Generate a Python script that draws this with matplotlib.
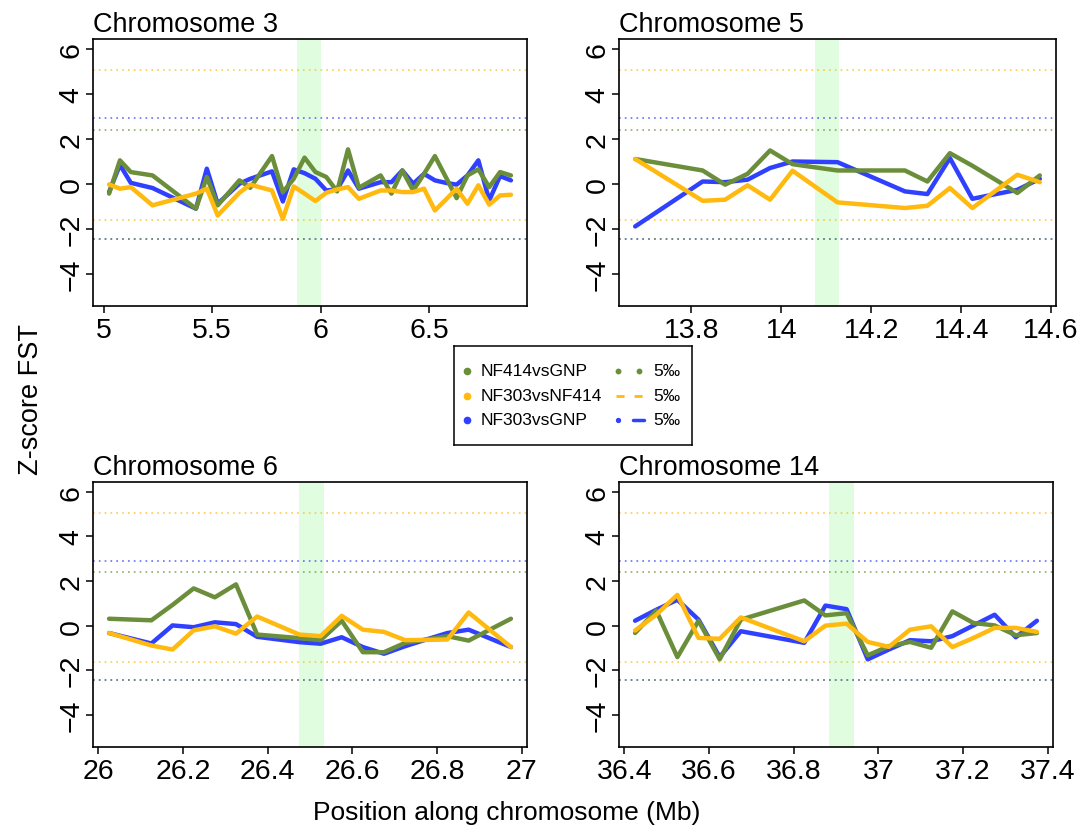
import numpy as np
import matplotlib
matplotlib.use('Agg')
import matplotlib.pyplot as plt
from matplotlib.ticker import FormatStrFormatter

plt.rcParams['font.family'] = ['Liberation Sans', 'DejaVu Sans']

# window midpoints (Mb) and Z-score FST for each comparison
chr3_pos = [5.025, 5.075, 5.125, 5.225, 5.425, 5.475, 5.525, 5.625, 5.675, 5.775, 5.825,
            5.875, 5.925, 5.975, 6.025, 6.075, 6.125, 6.175, 6.275, 6.325, 6.375, 6.425,
            6.475, 6.525, 6.575, 6.625, 6.675, 6.725, 6.775, 6.825, 6.875]
chr3_414_gnp = [-0.44, 1.04, 0.52, 0.37, -1.11, 0.30, -0.96, 0.15, -0.18, 1.23, -0.37,
                0.22, 1.16, 0.52, 0.30, -0.34, 1.53, -0.18, 0.37, -0.44, 0.59, -0.30,
                0.44, 1.23, 0.30, -0.64, 0.37, 0.64, -0.15, 0.52, 0.37]
chr3_303_414 = [-0.03, -0.22, -0.15, -0.96, -0.44, -0.22, -1.41, -0.40, -0.04, -0.30, -1.56,
                -0.12, -0.44, -0.77, -0.40, -0.25, -0.15, -0.67, -0.30, -0.30, -0.37, -0.37,
                -0.22, -1.19, -0.71, -0.22, -0.89, -0.07, -0.93, -0.52, -0.49]
chr3_303_gnp = [-0.37, 0.84, 0.04, -0.19, -1.11, 0.67, -0.89, 0.00, 0.22, 0.55, -0.79,
                0.64, 0.47, 0.22, -0.30, -0.25, 0.59, -0.22, 0.07, 0.07, 0.59, 0.00,
                0.44, 0.15, 0.04, -0.04, 0.37, 1.04, -0.74, 0.34, 0.15]

chr5_pos = [13.675, 13.825, 13.875, 13.925, 13.975, 14.025, 14.125, 14.275, 14.325,
            14.375, 14.425, 14.525, 14.575]
chr5_414_gnp = [1.10, 0.59, -0.04, 0.44, 1.48, 0.87, 0.59, 0.59, 0.10, 1.36, 0.80, -0.41, 0.37]
chr5_303_414 = [1.10, -0.76, -0.71, -0.07, -0.71, 0.58, -0.83, -1.08, -0.98, -0.19, -1.08, 0.40, 0.07]
chr5_303_gnp = [-1.90, 0.10, 0.07, 0.18, 0.70, 0.99, 0.96, -0.34, -0.46, 1.14, -0.67, -0.27, 0.22]

chr6_pos = [26.025, 26.125, 26.175, 26.225, 26.275, 26.325, 26.375, 26.475, 26.525,
            26.575, 26.625, 26.675, 26.725, 26.775, 26.825, 26.875, 26.975]
chr6_414_gnp = [0.31, 0.24, 0.93, 1.67, 1.27, 1.85, -0.40, -0.56, -0.65, 0.22, -1.19,
                -1.19, -0.77, -0.62, -0.47, -0.67, 0.31]
chr6_303_414 = [-0.33, -0.89, -1.07, -0.21, -0.03, -0.36, 0.41, -0.40, -0.47, 0.44, -0.18,
                -0.28, -0.65, -0.64, -0.62, 0.59, -0.96]
chr6_303_gnp = [-0.33, -0.80, 0.01, -0.07, 0.15, 0.07, -0.50, -0.74, -0.81, -0.52, -0.96,
                -1.26, -0.92, -0.62, -0.33, -0.18, -0.96]

chr14_pos = [36.425, 36.475, 36.525, 36.575, 36.625, 36.675, 36.825, 36.875, 36.925,
             36.975, 37.025, 37.075, 37.125, 37.175, 37.225, 37.275, 37.325, 37.375]
chr14_414_gnp = [-0.33, 0.68, -1.41, 0.22, -1.51, 0.27, 1.13, 0.46, 0.56, -1.33, -0.92,
                 -0.73, -0.99, 0.64, 0.12, 0.01, -0.43, -0.33]
chr14_303_414 = [-0.22, 0.49, 1.38, -0.55, -0.59, 0.37, -0.70, 0.00, 0.09, -0.73, -0.95,
                 -0.18, -0.03, -0.96, -0.55, -0.10, -0.10, -0.28]
chr14_303_gnp = [0.22, 0.71, 1.16, 0.27, -1.41, -0.25, -0.77, 0.90, 0.74, -1.51, -1.07,
                 -0.65, -0.70, -0.47, 0.01, 0.49, -0.52, 0.22]

# candidate regions (Mb)
chr3_band = (5.89, 6.0)
chr5_band = (14.076, 14.129)
chr6_band = (26.474, 26.532)
chr14_band = (36.884, 36.942)

# 5 per mille thresholds (low, high)
thr_414_gnp = (-2.45, 2.40)
thr_303_414 = (-1.62, 5.07)
thr_303_gnp = (-2.45, 2.92)

comparisons = ['NF414vsGNP', 'NF303vsNF414', 'NF303vsGNP']
green = '#6B8E3A'
orange = '#FFB90F'
blue = '#3040FF'

W, H = 1077, 837
fig = plt.figure(figsize=(W / 100, H / 100), dpi=100)


def add_ax(l, t, r, b):
    return fig.add_axes([l / W, 1 - b / H, (r - l) / W, (b - t) / H])


panels = [
    ('Chromosome 3', add_ax(93, 40, 527, 307), chr3_pos, chr3_414_gnp, chr3_303_414, chr3_303_gnp,
     chr3_band, [5, 5.5, 6, 6.5]),
    ('Chromosome 5', add_ax(619, 40, 1056, 307), chr5_pos, chr5_414_gnp, chr5_303_414, chr5_303_gnp,
     chr5_band, [13.8, 14, 14.2, 14.4, 14.6]),
    ('Chromosome 6', add_ax(93, 483, 527, 748), chr6_pos, chr6_414_gnp, chr6_303_414, chr6_303_gnp,
     chr6_band, [26, 26.2, 26.4, 26.6, 26.8, 27]),
    ('Chromosome 14', add_ax(619, 483, 1053, 748), chr14_pos, chr14_414_gnp, chr14_303_414, chr14_303_gnp,
     chr14_band, [36.4, 36.6, 36.8, 37, 37.2, 37.4]),
]

for title, ax, pos, g, o, b, band, xt in panels:
    ax.axvspan(band[0], band[1], color='#E0FDE0', lw=0, zorder=0)
    for thr, col in [(thr_303_414, orange), (thr_303_gnp, blue), (thr_414_gnp, green)]:
        for v in thr:
            ax.axhline(v, color=col, lw=1.2, ls=(0, (1, 2.5)), alpha=0.75, zorder=1)
    kw = dict(lw=3.2, solid_joinstyle='round', solid_capstyle='round')
    ax.plot(pos, b, color=blue, zorder=2, **kw)
    ax.plot(pos, g, color=green, zorder=3, **kw)
    ax.plot(pos, o, color=orange, zorder=4, **kw)

    span = max(pos) - min(pos)
    ax.set_xlim(min(pos) - 0.04 * span, max(pos) + 0.04 * span)
    ax.set_ylim(-5.44, 6.44)
    ax.set_xticks(xt)
    ax.xaxis.set_major_formatter(FormatStrFormatter('%g'))
    ax.set_yticks([-4, -2, 0, 2, 4, 6])
    ax.tick_params(labelsize=20.5, length=5, width=1.1)
    ax.tick_params(axis='x', pad=3)
    ax.tick_params(axis='y', pad=1)
    for lab in ax.get_yticklabels():
        lab.set_rotation(90)
        lab.set_va('center')
    for s in ax.spines.values():
        s.set_linewidth(1.2)
    ax.set_title(title, loc='left', fontsize=19.5, pad=6)

fig.text(31 / W, 1 - 400 / H, 'Z-score FST', rotation=90, fontsize=19.5, ha='center', va='center')
fig.text(507 / W, 1 - 813 / H, 'Position along chromosome (Mb)', fontsize=19, ha='center', va='center')

# legend box drawn by hand, R style
lax = add_ax(454, 347, 692, 446)
lax.set_xlim(0, 238)
lax.set_ylim(99, 0)
lax.set_xticks([])
lax.set_yticks([])
for s in lax.spines.values():
    s.set_linewidth(1.1)
rows = [25, 49.5, 74]
for y, name, col in zip(rows, comparisons, [green, orange, blue]):
    lax.plot([13], [y], 'o', ms=4.5, color=col)
    lax.text(27, y, name, va='center', fontsize=12.5)
    lax.text(199, y, '5‰', va='center', fontsize=12.5)
lax.plot([164, 185], [rows[0]] * 2, ls='none', marker='o', ms=3.2, color=green)
lax.plot([162, 190], [rows[1]] * 2, color=orange, lw=2, ls=(0, (2.9, 3.6)))
lax.plot([164], [rows[2]], marker='o', ms=2.8, color=blue)
lax.plot([179, 190], [rows[2]] * 2, color=blue, lw=2.5, solid_capstyle='round')

fig.savefig('out.png', dpi=100)
